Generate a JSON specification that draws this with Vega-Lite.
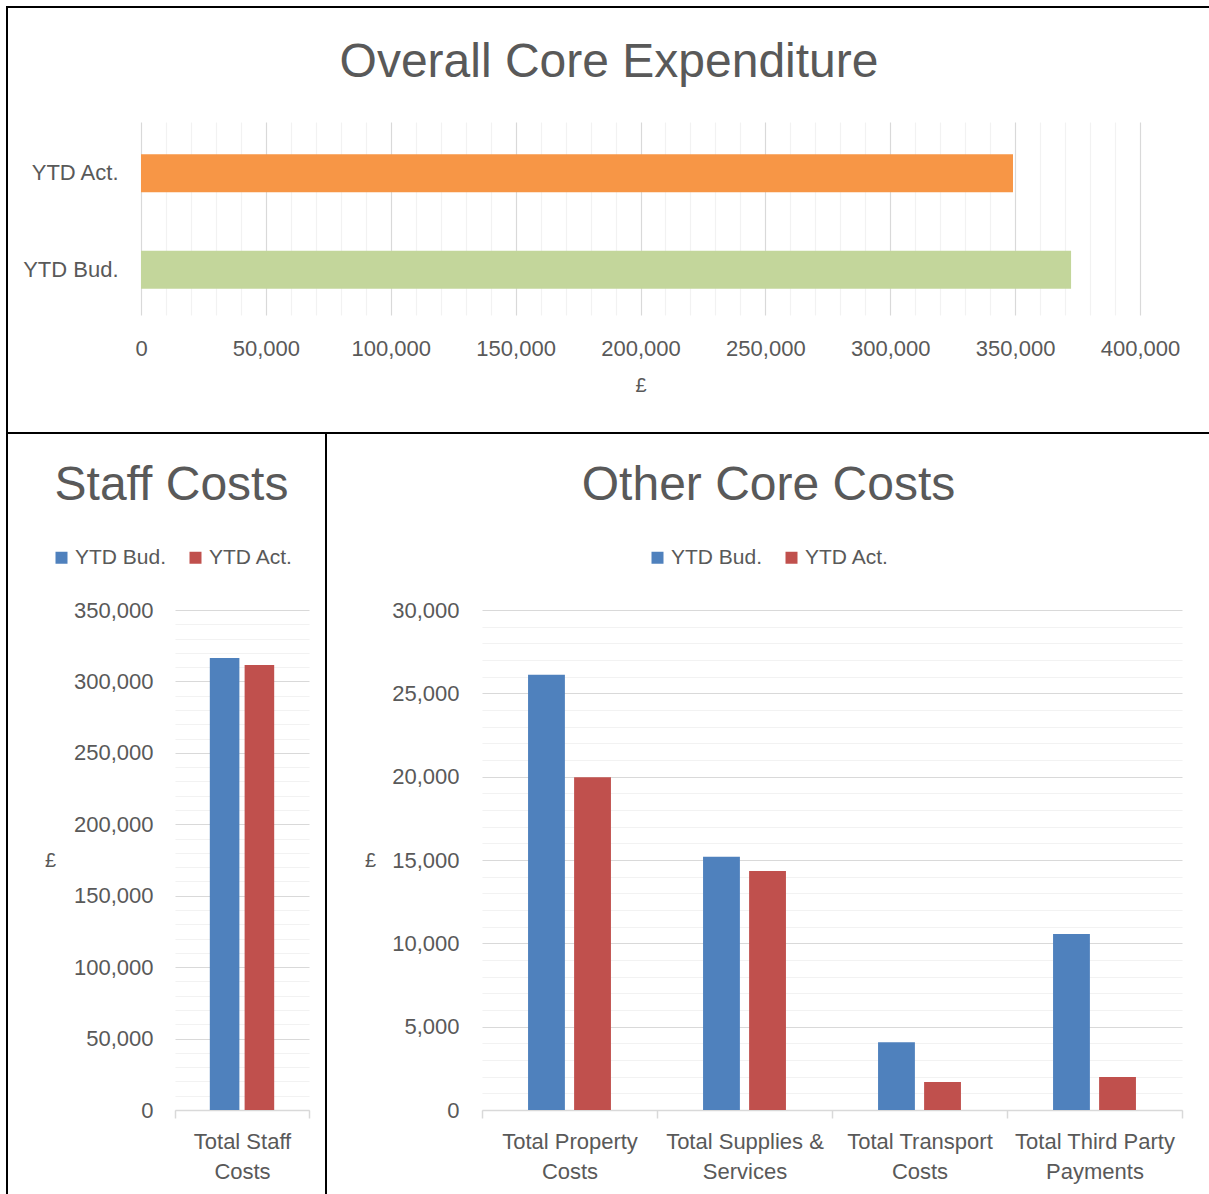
{
  "$schema": "https://vega.github.io/schema/vega-lite/v6.json",
  "padding": {"left": 6, "top": 6, "right": 0, "bottom": 0},
  "background": "white",
  "datasets": {
    "overall": [
      {"series": "YTD Act.", "value": 349150},
      {"series": "YTD Bud.", "value": 372400}
    ],
    "staff": [
      {"category": "Total Staff Costs", "series": "YTD Bud.", "value": 316400},
      {"category": "Total Staff Costs", "series": "YTD Act.", "value": 311500}
    ],
    "other": [
      {"category": "Total Property Costs", "series": "YTD Bud.", "value": 26120},
      {"category": "Total Property Costs", "series": "YTD Act.", "value": 19960},
      {"category": "Total Supplies & Services", "series": "YTD Bud.", "value": 15200},
      {"category": "Total Supplies & Services", "series": "YTD Act.", "value": 14340},
      {"category": "Total Transport Costs", "series": "YTD Bud.", "value": 4060},
      {"category": "Total Transport Costs", "series": "YTD Act.", "value": 1680},
      {"category": "Total Third Party Payments", "series": "YTD Bud.", "value": 10560},
      {"category": "Total Third Party Payments", "series": "YTD Act.", "value": 1980}
    ]
  },
  "spacing": 0,
  "bounds": "flush",
  "resolve": {"scale": {"color": "independent", "xOffset": "independent"}, "legend": {"color": "independent"}},
  "vconcat": [
    {
      "width": 1204,
      "height": 426,
      "data": {"name": "overall"},
      "title": {"text": "Overall Core Expenditure", "offset": -80},
      "mark": {"type": "bar"},
      "encoding": {
        "y": {
          "field": "series", "type": "nominal",
          "scale": {"domain": ["YTD Act.", "YTD Bud."], "range": [118, 311], "paddingInner": 0.608, "paddingOuter": 0.304},
          "axis": {"title": null, "offset": -134, "labelPadding": 23, "ticks": false, "domain": false, "grid": false}
        },
        "x": {
          "field": "value", "type": "quantitative",
          "scale": {"domain": [0, 400000], "range": [134, 1133], "nice": false},
          "axis": {
            "title": "£", "titleY": 67, "titleBaseline": "middle",
            "offset": -115,
            "values": [0,10000,20000,30000,40000,50000,60000,70000,80000,90000,100000,110000,120000,130000,140000,150000,160000,170000,180000,190000,200000,210000,220000,230000,240000,250000,260000,270000,280000,290000,300000,310000,320000,330000,340000,350000,360000,370000,380000,390000,400000],
            "labelExpr": "datum.value % 50000 === 0 ? format(datum.value, ',') : ''",
            "labelPadding": 20,
            "gridColor": {"condition": {"test": "datum.value % 50000 === 0", "value": "#D9D9D9"}, "value": "#F2F2F2"}
          }
        },
        "color": {
          "field": "series", "type": "nominal",
          "scale": {"domain": ["YTD Act.", "YTD Bud."], "range": ["#F79646", "#C3D69B"]},
          "legend": null
        }
      }
    },
    {
      "spacing": 0,
      "bounds": "flush",
      "resolve": {"scale": {"color": "independent", "xOffset": "independent"}, "legend": {"color": "independent"}},
      "hconcat": [
        {
          "width": 319,
          "height": 764,
          "data": {"name": "staff"},
          "title": {"text": "Staff Costs", "offset": -77, "dx": 5},
          "mark": {"type": "bar"},
          "encoding": {
            "x": {
              "field": "category", "type": "nominal",
              "scale": {"range": [168, 302], "paddingInner": 0, "paddingOuter": 0},
              "axis": {
                "title": null, "offset": -87, "labelAngle": 0,
                "domain": true, "domainColor": "#D9D9D9", "domainWidth": 1.5,
                "ticks": true, "tickBand": "extent", "tickColor": "#D9D9D9", "tickSize": 8, "tickWidth": 1.5,
                "labelPadding": 13, "labelBaseline": "top", "labelLineHeight": 30,
                "labelExpr": "[slice(datum.label, 0, lastindexof(datum.label, ' ')), slice(datum.label, lastindexof(datum.label, ' ') + 1)]",
                "grid": false
              }
            },
            "xOffset": {
              "field": "series", "type": "nominal",
              "scale": {"domain": ["YTD Bud.", "YTD Act."], "paddingInner": 0.15, "paddingOuter": 1.12}
            },
            "y": {
              "field": "value", "type": "quantitative",
              "scale": {"domain": [0, 350000], "range": [677, 177], "nice": false},
              "axis": {
                "title": "£", "titleAngle": 0, "titleX": -125, "titleY": 427, "titleAlign": "center", "titleBaseline": "middle",
                "offset": -168,
                "values": [0,10000,20000,30000,40000,50000,60000,70000,80000,90000,100000,110000,120000,130000,140000,150000,160000,170000,180000,190000,200000,210000,220000,230000,240000,250000,260000,270000,280000,290000,300000,310000,320000,330000,340000,350000],
                "labelExpr": "datum.value % 50000 === 0 ? format(datum.value, ',') : ''",
                "labelPadding": 22,
                "gridColor": {"condition": {"test": "datum.value % 50000 === 0", "value": "#D9D9D9"}, "value": "#F2F2F2"}
              }
            },
            "color": {
              "field": "series", "type": "nominal",
              "scale": {"domain": ["YTD Bud.", "YTD Act."], "range": ["#4F81BD", "#C0504D"]},
              "legend": {"legendX": 44, "legendY": 114}
            }
          }
        },
        {
          "width": 885,
          "height": 764,
          "data": {"name": "other"},
          "title": {"text": "Other Core Costs", "offset": -77},
          "mark": {"type": "bar"},
          "encoding": {
            "x": {
              "field": "category", "type": "nominal", "sort": null,
              "scale": {"range": [156, 856], "paddingInner": 0, "paddingOuter": 0},
              "axis": {
                "title": null, "offset": -87, "labelAngle": 0,
                "domain": true, "domainColor": "#D9D9D9", "domainWidth": 1.5,
                "ticks": true, "tickBand": "extent", "tickColor": "#D9D9D9", "tickSize": 8, "tickWidth": 1.5,
                "labelPadding": 13, "labelBaseline": "top", "labelLineHeight": 30,
                "labelExpr": "[slice(datum.label, 0, lastindexof(datum.label, ' ')), slice(datum.label, lastindexof(datum.label, ' ') + 1)]",
                "grid": false
              }
            },
            "xOffset": {
              "field": "series", "type": "nominal",
              "scale": {"domain": ["YTD Bud.", "YTD Act."], "paddingInner": 0.2, "paddingOuter": 1.09}
            },
            "y": {
              "field": "value", "type": "quantitative",
              "scale": {"domain": [0, 30000], "range": [677, 177], "nice": false},
              "axis": {
                "title": "£", "titleAngle": 0, "titleX": -112, "titleY": 427, "titleAlign": "center", "titleBaseline": "middle",
                "offset": -156,
                "values": [0,1000,2000,3000,4000,5000,6000,7000,8000,9000,10000,11000,12000,13000,14000,15000,16000,17000,18000,19000,20000,21000,22000,23000,24000,25000,26000,27000,28000,29000,30000],
                "labelExpr": "datum.value % 5000 === 0 ? format(datum.value, ',') : ''",
                "labelPadding": 23,
                "gridColor": {"condition": {"test": "datum.value % 5000 === 0", "value": "#D9D9D9"}, "value": "#F2F2F2"}
              }
            },
            "color": {
              "field": "series", "type": "nominal",
              "scale": {"domain": ["YTD Bud.", "YTD Act."], "range": ["#4F81BD", "#C0504D"]},
              "legend": {"legendX": 321, "legendY": 114}
            }
          }
        }
      ]
    }
  ],
  "config": {
    "font": "Liberation Sans",
    "view": {"stroke": "black", "strokeWidth": 2},
    "title": {"fontSize": 48, "fontWeight": "normal", "color": "#595959", "anchor": "middle", "frame": "group", "baseline": "middle"},
    "axis": {
      "labelFontSize": 22, "labelColor": "#595959", "labelFont": "Liberation Sans",
      "titleFontSize": 20, "titleFontWeight": "normal", "titleColor": "#595959",
      "ticks": false, "domain": false, "labelOverlap": false, "labelFlush": false,
      "gridWidth": 1.2
    },
    "legend": {
      "orient": "none", "direction": "horizontal", "title": null,
      "symbolType": "square", "symbolSize": 144, "symbolStrokeWidth": 0,
      "labelFontSize": 21, "labelColor": "#595959", "labelOffset": 3,
      "columnPadding": 18, "padding": 0
    }
  }
}
